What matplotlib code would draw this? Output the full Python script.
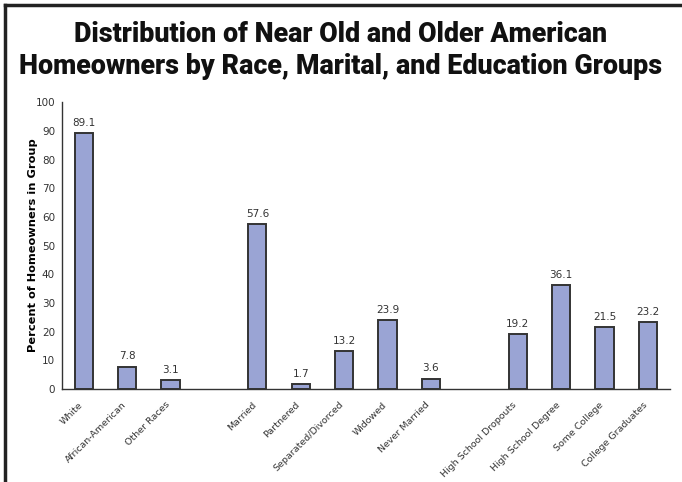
import matplotlib
matplotlib.use("Agg")
import matplotlib.pyplot as plt
from matplotlib.lines import Line2D
from matplotlib.transforms import ScaledTranslation

categories = ["White", "African-American", "Other Races",
              "Married", "Partnered", "Separated/Divorced", "Widowed", "Never Married",
              "High School Dropouts", "High School Degree", "Some College", "College Graduates"]
values = [89.1, 7.8, 3.1, 57.6, 1.7, 13.2, 23.9, 3.6, 19.2, 36.1, 21.5, 23.2]
positions = [0, 1, 2, 4, 5, 6, 7, 8, 10, 11, 12, 13]
yticks = [0, 10, 20, 30, 40, 50, 60, 70, 80, 90, 100]
title_lines = ["Distribution of Near Old and Older American",
               "Homeowners by Race, Marital, and Education Groups"]

W, H = 682, 482
fig = plt.figure(figsize=(W / 100, H / 100), dpi=100)
ax = fig.add_axes([0.0909, 0.193, 0.891, 0.595])

ax.bar(positions, values, width=0.42, color="#9aa4d4", edgecolor="#333333", linewidth=1.4)
for p, v in zip(positions, values):
    ax.text(p, v + 1.8, f"{v:.1f}", ha="center", va="bottom", fontsize=7.5, color="#333333")

ax.set_xlim(-0.5, 13.5)
ax.set_ylim(0, 100)
ax.set_yticks(yticks)
ax.set_yticklabels([str(t) for t in yticks], fontsize=7.5, color="#333333")
ax.set_xticks(positions)
ax.set_xticklabels(categories, rotation=45, ha="right", rotation_mode="anchor", fontsize=6.8, color="#333333")
ax.tick_params(axis="x", length=0, pad=8)
ax.tick_params(axis="y", length=0, pad=5)
shift = ScaledTranslation(-4 / 72, 0, fig.dpi_scale_trans)
for lab in ax.get_xticklabels():
    lab.set_transform(lab.get_transform() + shift)
for s in ["top", "right"]:
    ax.spines[s].set_visible(False)
for s in ["left", "bottom"]:
    ax.spines[s].set_color("#333333")
    ax.spines[s].set_linewidth(1.0)
ax.set_ylabel("Percent of Homeowners in Group", fontsize=8.2, fontweight="bold", va="center")
ax.yaxis.set_label_coords(-0.048, 0.5)

# title: two lines, sized so the second line spans ~643 px like the reference
t1 = fig.text(0.5, 1 - 34 / H, title_lines[0], ha="center", va="center", fontsize=20,
              fontweight="black", family="Roboto", color="#111111")
t2 = fig.text(0.5, 1 - 67 / H, title_lines[1], ha="center", va="center", fontsize=20,
              fontweight="black", family="Roboto", color="#111111")
r = fig.canvas.get_renderer()
w2 = t2.get_window_extent(r).width
fs = 20 * 643 / w2
t1.set_fontsize(fs)
t2.set_fontsize(fs)

fig.add_artist(Line2D([5 / W, 1.0], [1 - 5 / H, 1 - 5 / H], transform=fig.transFigure, color="#222222", linewidth=2.5))
fig.add_artist(Line2D([5 / W, 5 / W], [0, 1 - 5 / H], transform=fig.transFigure, color="#222222", linewidth=2.5))

fig.savefig("out.png", dpi=100)
